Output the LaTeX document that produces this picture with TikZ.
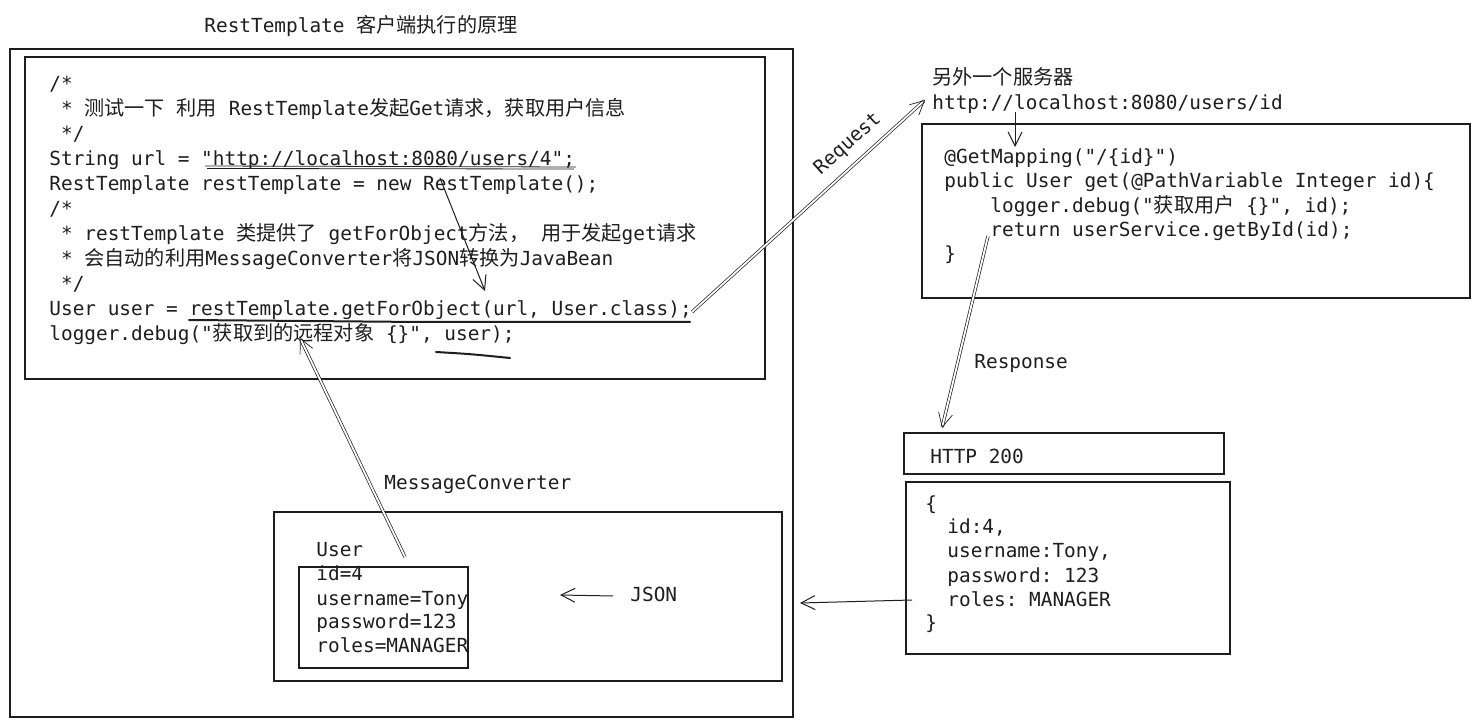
\documentclass[tikz,border=0pt]{standalone}
\usepackage{fontspec}
\usetikzlibrary{arrows.meta}
\newfontfamily\codef{DejaVu Sans Mono}
\newfontfamily\cjk[Scale=1.04]{Noto Sans CJK SC}
\definecolor{ink}{HTML}{1E1E1E}
\frenchspacing
\begin{document}
\begin{tikzpicture}[x=0.5pt,y=-0.5pt,
  ln/.style={anchor=base west, inner sep=0pt, font=\codef\frenchspacing\fontsize{9.7}{12}\selectfont, text=ink},
  box/.style={draw=ink, line width=0.6pt},
  arr/.style={draw=ink, line width=0.5pt, -{Straight Barb[length=7pt,width=7pt]}},
  dbl/.style={draw=ink, line width=0.35pt, double=white, double distance=0.9pt, -{Straight Barb[length=7pt,width=7pt]}},
  uline/.style={draw=ink, line width=1pt, line cap=round}]
\fill[white] (0,0) rectangle (1480,727);
\useasboundingbox (0,0) rectangle (1480,727);

% title
\node[ln] (title) at (204,33) {RestTemplate {\cjk 客户端执行的原理}};

% outer boxes
\draw[box] (10,49) rectangle (793,717);
\draw[box] (25,57) rectangle (765,379);

% client code
\node[ln] (c1) at (49,91) {/*};
\node[ln] (c2) at (49,116) {\ * {\cjk 测试一下} {\cjk 利用} RestTemplate{\cjk 发起}Get{\cjk 请求，获取用户信息}};
\node[ln] (c3) at (49,141) {\ */};
\node[ln] (c4) at (49,166) {String url = "http://localhost:8080/users/4";};
\node[ln] (c5) at (49,191) {RestTemplate restTemplate = new RestTemplate();};
\node[ln] (c6) at (49,216) {/*};
\node[ln] (c7) at (49,241) {\ * restTemplate {\cjk 类提供了} getForObject{\cjk 方法，} {\cjk 用于发起}get{\cjk 请求}};
\node[ln] (c8) at (49,266) {\ * {\cjk 会自动的利用}MessageConverter{\cjk 将}JSON{\cjk 转换为}JavaBean};
\node[ln] (c9) at (49,291) {\ */};
\node[ln] (c10) at (49,316) {User user = restTemplate.getForObject(url, User.class);};
\node[ln] (c11) at (49,341) {logger.debug("{\cjk 获取到的远程对象} \{\}", user);};

% underlines
\draw[draw=ink, line width=0.4pt] (205,166) -- (576,167);
\draw[draw=ink, line width=0.4pt] (207,168.5) -- (574,169);
\draw[uline] (189,320) -- (420,322) -- (690,322);
\draw[uline] (436,352) .. controls (470,354) .. (510,358);

% arrow restTemplate -> getForObject
\coordinate (p1) at (440,178);
\coordinate (p2) at (485,291);
\draw[arr] (p1) -- (p2);

% server
\node[ln, font=\cjk\fontsize{9.7}{12}\selectfont] (srv) at (932,85) {另外一个服务器};
\node[ln] (url) at (932,110) {http://localhost:8080/users/id};
\draw[box] (922,124) rectangle (1470,298);
\node[ln] (s1) at (944,164) {@GetMapping("/\{id\}")};
\node[ln] (s2) at (944,188) {public User get(@PathVariable Integer id)\{};
\node[ln] (s3) at (990,213) {logger.debug("{\cjk 获取用户} \{\}", id);};
\node[ln] (s4) at (990,237) {return userService.getById(id);};
\node[ln] (s5) at (944,261) {\}};
\coordinate (u1) at (1015,112);
\coordinate (u2) at (1015,147);
\draw[arr] (u1) -- (u2);

% request
\coordinate (rq1) at (692,312);
\coordinate (rq2) at (925,100);
\draw[dbl] (rq1) -- (rq2);
\node[ln, anchor=center, rotate=42] (req) at (848,144) {Request};

% response
\coordinate (rs1) at (988,236);
\coordinate (rs2) at (942,428);
\draw[dbl] (rs1) -- (rs2);
\node[ln] (resp) at (974,369) {Response};

% HTTP 200 and JSON
\draw[box] (904,433) rectangle (1224,474);
\node[ln] (http) at (930,464) {HTTP 200};
\draw[box] (906,482) rectangle (1230,654);
\node[ln] (j1) at (925,510) {\{};
\node[ln] (j2) at (947,534) {id:4,};
\node[ln] (j3) at (947,558) {username:Tony,};
\node[ln] (j4) at (947,582) {password: 123};
\node[ln] (j5) at (947,606) {roles: MANAGER};
\node[ln] (j6) at (925,630) {\}};
\coordinate (ja) at (912,600);
\coordinate (jb) at (800,603);
\draw[arr] (ja) -- (jb);

% message converter
\node[ln] (mc) at (384,490) {MessageConverter};
\draw[box] (274,512) rectangle (782,681);
\draw[box] (299,567) rectangle (468,668);
\node[ln] (m1) at (316,557) {User};
\node[ln] (m2) at (316,581) {id=4};
\node[ln] (m3) at (316,605) {username=Tony};
\node[ln] (m4) at (316,629) {password=123};
\node[ln] (m5) at (316,653) {roles=MANAGER};
\node[ln] (json) at (630,602) {JSON};
\coordinate (ma) at (613,596);
\coordinate (mb) at (560,595);
\draw[arr] (ma) -- (mb);

% user -> client
\coordinate (ua) at (405,557);
\coordinate (ub) at (300,338);
\draw[dbl] (ua) -- (ub);
\end{tikzpicture}
\end{document}
